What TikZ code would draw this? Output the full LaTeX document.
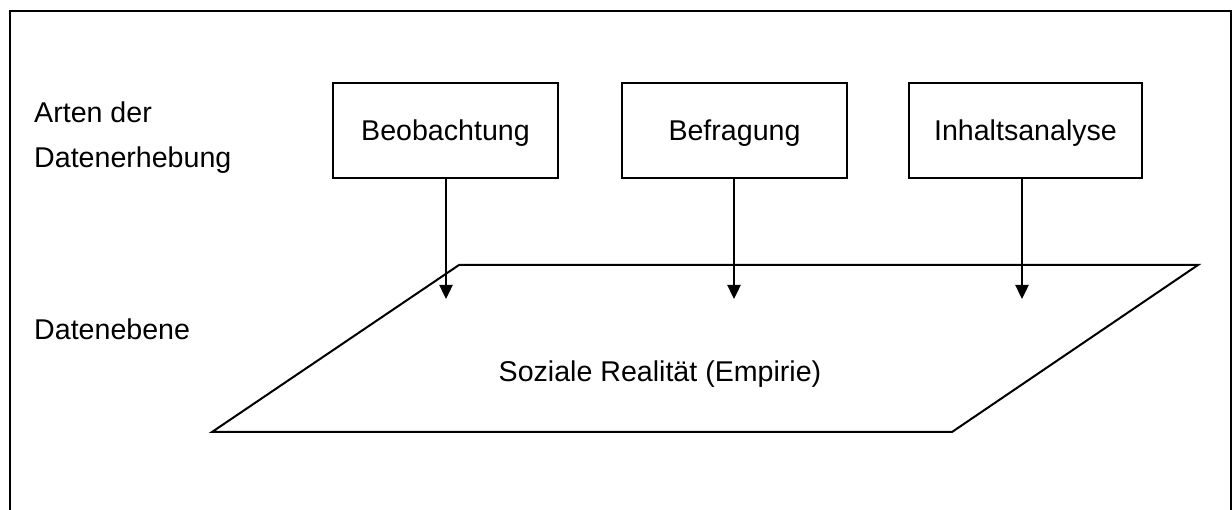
\documentclass[tikz,border=0pt]{standalone}
\usepackage{fontspec}
\setmainfont{Liberation Sans}
\usetikzlibrary{arrows.meta}
\begin{document}
\begin{tikzpicture}[x=1pt,y=-1pt,
  txt/.style={inner sep=0pt, font=\fontsize{28.6}{45}\selectfont},
  method/.style={draw, line width=2pt, minimum height=95pt, inner sep=0pt,
    text height=20.5pt, text depth=0pt, font=\fontsize{28.6}{34}\selectfont},
  link/.style={line width=2.4pt, -{Triangle[width=13pt,length=14pt]}}]
\useasboundingbox (0,0) rectangle (1232,510);

% outer frame, open at the bottom
\draw[line width=2.4pt] (10,512) -- (10,11) -- (1231,11) -- (1231,512);

% row labels
\node[txt, align=left, anchor=north west] (arten) at (34,101.2) {Arten der\\Datenerhebung};
\node[txt, anchor=base west] (ebene) at (34,340) {Datenebene};

% methods of data collection
\node[method, minimum width=225pt] (beob) at (445.5,130.5) {Beobachtung};
\node[method, minimum width=225pt] (befr) at (734.5,130.5) {Befragung};
\node[method, minimum width=233pt] (inh) at (1025.5,130.5) {Inhaltsanalyse};

% data plane
\coordinate (p1) at (459,265);
\coordinate (p2) at (1198,265);
\coordinate (p3) at (952,432);
\coordinate (p4) at (212,432);
\draw[line width=2pt, line join=miter] (p1) -- (p2) -- (p3) -- (p4) -- cycle;
\node[txt, anchor=base] (real) at (660,382) {Soziale Realität (Empirie)};

% arrow tips on the plane
\coordinate (t1) at (446,299);
\coordinate (t2) at (734,299);
\coordinate (t3) at (1022,299);
\draw[link] (beob.south -| t1) -- (t1);
\draw[link] (befr.south -| t2) -- (t2);
\draw[link] (inh.south -| t3) -- (t3);
\end{tikzpicture}
\end{document}
